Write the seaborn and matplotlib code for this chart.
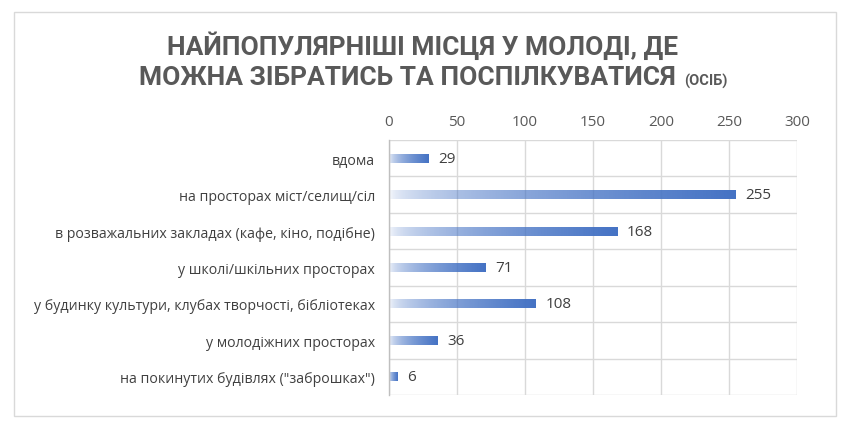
import numpy as np
import pandas as pd
import matplotlib
matplotlib.use("Agg")
import matplotlib.pyplot as plt
import seaborn as sns
from matplotlib.colors import to_rgb
from matplotlib.patches import Rectangle

categories = [
    "вдома",
    "на просторах міст/селищ/сіл",
    "в розважальних закладах (кафе, кіно, подібне)",
    "у школі/шкільних просторах",
    "у будинку культури, клубах творчості, бібліотеках",
    "у молодіжних просторах",
    'на покинутих будівлях ("заброшках")',
]
values = [29, 255, 168, 71, 108, 36, 6]
x_ticks = [0, 50, 100, 150, 200, 250, 300]
title_line1 = "НАЙПОПУЛЯРНІШІ МІСЦЯ У МОЛОДІ, ДЕ"
title_line2 = "МОЖНА ЗІБРАТИСЬ ТА ПОСПІЛКУВАТИСЯ"
title_unit = "(ОСІБ)"

sns.set_theme(style="white")
plt.rcParams["font.family"] = ["Open Sans", "DejaVu Sans"]

df = pd.DataFrame({"cat": categories, "val": values})

fig = plt.figure(figsize=(8.5, 4.31), dpi=100)
ax = fig.add_axes([389 / 850, 1 - 396 / 431, 408 / 850, 255 / 431])

sns.barplot(data=df, y="cat", x="val", orient="h", ax=ax, width=0.25,
            color="#4472C4", saturation=1)

base = np.array(to_rgb("#4472C4"))
t = np.linspace(0, 1, 256)
grad = np.zeros((1, 256, 4))
grad[0, :, :3] = base
grad[0, :, 3] = np.sqrt(t) * 0.98 + 0.02
for p in ax.patches:
    x0, y0 = p.get_x(), p.get_y()
    w, h = p.get_width(), p.get_height()
    p.set_facecolor("none")
    p.set_edgecolor("none")
    im = ax.imshow(grad, aspect="auto", extent=[x0, x0 + w, y0 + h, y0],
                   interpolation="bilinear", zorder=2)
    im.set_clip_path(p)
    ax.text(x0 + w + 7, y0 + h / 2, str(int(round(w))), va="center", ha="left",
            fontsize=11, color="#404040", zorder=3)

ax.set_xlim(0, 300)
ax.set_ylim(len(categories) - 0.5, -0.5)
ax.set_xticks(x_ticks)
ax.xaxis.tick_top()
ax.tick_params(axis="x", length=0, pad=8, labelsize=11, labelcolor="#595959")
ax.tick_params(axis="y", length=0, pad=10, labelsize=10.2, labelcolor="#404040")
ax.set_xlabel("")
ax.set_ylabel("")
ax.set_yticks(np.arange(-0.5, len(categories), 1), minor=True)
ax.grid(True, axis="x", which="major", color="#d9d9d9", lw=1, zorder=0)
ax.grid(True, axis="y", which="minor", color="#d9d9d9", lw=1, zorder=0)
ax.tick_params(axis="y", which="minor", length=0)
ax.set_axisbelow(True)
for s in ["top", "right", "bottom"]:
    ax.spines[s].set_visible(False)
ax.spines["left"].set_color("#bfbfbf")
ax.spines["left"].set_linewidth(1)

# outer border
fig.patches.append(Rectangle((14 / 850, 1 - 417 / 431), 822 / 850, 404 / 431,
                             transform=fig.transFigure, fill=False,
                             edgecolor="#d9d9d9", lw=1))

tfont = dict(family=["Roboto", "DejaVu Sans"], weight="bold", color="#595959")
fig.text(0.497, 1 - 46 / 431, title_line1, ha="center", va="center", fontsize=19, **tfont)
t2 = fig.text(0.479, 1 - 78 / 431, title_line2, ha="center", va="center", fontsize=19, **tfont)
ax.annotate(title_unit, xy=(1, 0), xycoords=t2, xytext=(6, 1), textcoords="offset points",
            ha="left", va="bottom", fontsize=10.5, **tfont)

fig.savefig("out.png", dpi=100)
